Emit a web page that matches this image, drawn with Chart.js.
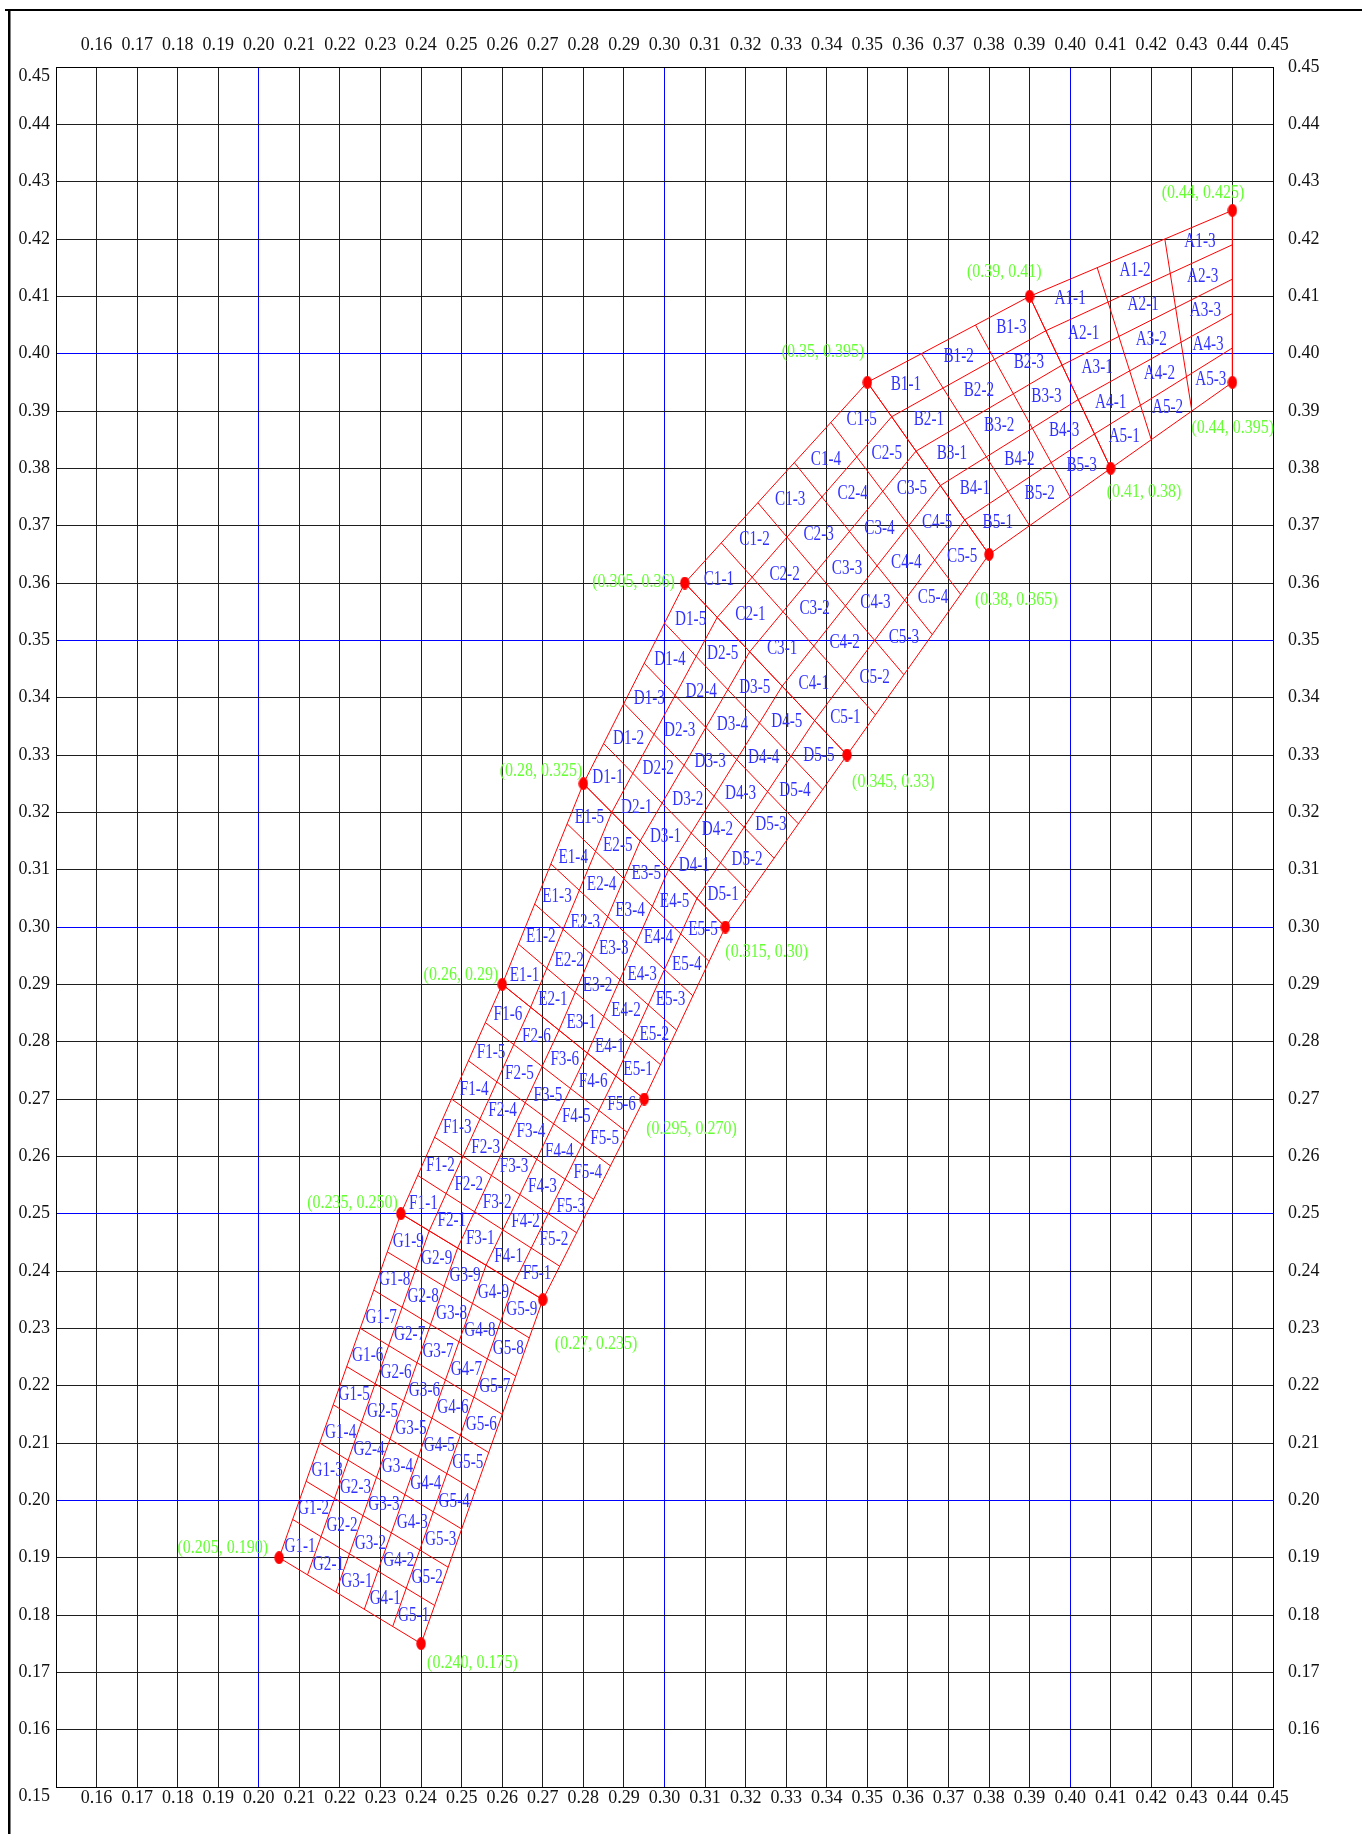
<!DOCTYPE html>
<html>
<head>
<meta charset="utf-8">
<script src="https://cdn.jsdelivr.net/npm/chart.js@4.4.1/dist/chart.umd.min.js"></script>
<style>
  html, body { margin: 0; padding: 0; background: #ffffff; }
  canvas { display: block; }
</style>
</head>
<body>
<canvas id="chart" width="1362" height="1834" style="width:1362px;height:1834px"></canvas>
<script>
// ---------------- DATA ----------------
// Tick values and labels (0.15 .. 0.45, every 0.01)
const tickValues = [0.15,0.16,0.17,0.18,0.19,0.20,0.21,0.22,0.23,0.24,0.25,0.26,0.27,0.28,0.29,0.30,
                    0.31,0.32,0.33,0.34,0.35,0.36,0.37,0.38,0.39,0.40,0.41,0.42,0.43,0.44,0.45];
const xTickLabels = ['','0.16','0.17','0.18','0.19','0.20','0.21','0.22','0.23','0.24','0.25','0.26','0.27','0.28','0.29','0.30',
                     '0.31','0.32','0.33','0.34','0.35','0.36','0.37','0.38','0.39','0.40','0.41','0.42','0.43','0.44','0.45'];
const yLeftTickLabels = ['0.15','0.16','0.17','0.18','0.19','0.20','0.21','0.22','0.23','0.24','0.25','0.26','0.27','0.28','0.29','0.30',
                     '0.31','0.32','0.33','0.34','0.35','0.36','0.37','0.38','0.39','0.40','0.41','0.42','0.43','0.44','0.45'];
const yRightTickLabels = ['','0.16','0.17','0.18','0.19','0.20','0.21','0.22','0.23','0.24','0.25','0.26','0.27','0.28','0.29','0.30',
                     '0.31','0.32','0.33','0.34','0.35','0.36','0.37','0.38','0.39','0.40','0.41','0.42','0.43','0.44','0.45'];
const accentLines = [0.20, 0.25, 0.30, 0.35, 0.40];

// Boundary points (upper/left edge and lower/right edge of the band)
const upperX = [0.205, 0.235, 0.26, 0.28, 0.305, 0.35, 0.39, 0.44];
const upperY = [0.190, 0.250, 0.29, 0.325, 0.36, 0.395, 0.41, 0.425];
const upperLabels = ['(0.205, 0.190)','(0.235, 0.250)','(0.26, 0.29)','(0.28, 0.325)','(0.305, 0.36)','(0.35, 0.395)','(0.39, 0.41)','(0.44, 0.425)'];
const lowerX = [0.240, 0.27, 0.295, 0.315, 0.345, 0.38, 0.41, 0.44];
const lowerY = [0.175, 0.235, 0.270, 0.30, 0.33, 0.365, 0.38, 0.395];
const lowerLabels = ['(0.240, 0.175)','(0.27, 0.235)','(0.295, 0.270)','(0.315, 0.30)','(0.345, 0.33)','(0.38, 0.365)','(0.41, 0.38)','(0.44, 0.395)'];

// Regions between consecutive boundary points (bottom to top)
const regionNames = ['G','F','E','D','C','B','A'];
const regionRows  = [5, 5, 5, 5, 5, 5, 5];
const regionCols  = [9, 6, 5, 5, 5, 3, 3];
// label text as printed in the original (A2-2 is printed as "A2-1")
const cellLabelOverrides = { 'A2-2': 'A2-1' };

// ---------------- STYLE (label placement in pixels) ----------------
const upperLabelDX = [-11, -3, -4, -1, -10, -3, 12, 12];   // right edge of text relative to point
const upperLabelDY = [-10, -11, -9, -13, -1, -30, -24, -17];
const lowerLabelDX = [6, 12, 2, 0, 5, -14, -4, -41];        // left edge of text relative to point
const lowerLabelDY = [19, 44, 30, 25, 27, 46, 24, 46];

const RED = '#ff0000', BLUE_TXT = 'rgb(50,50,255)', GREEN_TXT = '#66ff33';
const FONT_FAMILY = '"Liberation Serif", "Times New Roman", serif';

// ---------------- GEOMETRY ----------------
function regionCorners(k) {
  return {
    a: [upperX[k], upperY[k]], b: [upperX[k+1], upperY[k+1]],
    c: [lowerX[k], lowerY[k]], d: [lowerX[k+1], lowerY[k+1]]
  };
}
function bilinear(q, s, t) {
  const top = [q.a[0] + (q.b[0]-q.a[0])*t, q.a[1] + (q.b[1]-q.a[1])*t];
  const bot = [q.c[0] + (q.d[0]-q.c[0])*t, q.c[1] + (q.d[1]-q.c[1])*t];
  return [top[0] + (bot[0]-top[0])*s, top[1] + (bot[1]-top[1])*s];
}
const GAP = { x: null, y: null };
const meshDatasets = regionNames.map((name, k) => {
  const q = regionCorners(k), R = regionRows[k], C = regionCols[k];
  const pts = [];
  const push = p => pts.push({ x: p[0], y: p[1] });
  for (let i = 0; i <= R; i++) { push(bilinear(q, i/R, 0)); push(bilinear(q, i/R, 1)); pts.push(GAP); }
  for (let j = 0; j <= C; j++) { push(bilinear(q, 0, j/C)); push(bilinear(q, 1, j/C)); pts.push(GAP); }
  return {
    label: name, data: pts, showLine: true, spanGaps: false, borderColor: RED, borderWidth: 1,
    pointRadius: 0, pointHoverRadius: 0, fill: false, tension: 0
  };
});

// ellipse marker (circle in data units looks taller than wide)
const dot = document.createElement('canvas');
dot.width = 10; dot.height = 13;
(function () {
  const g = dot.getContext('2d');
  g.fillStyle = RED;
  g.beginPath(); g.ellipse(5, 6.5, 4.7, 6.4, 0, 0, Math.PI * 2); g.fill();
})();
const keyPoints = upperX.map((x, i) => ({ x, y: upperY[i] })).concat(lowerX.map((x, i) => ({ x, y: lowerY[i] })));
const pointDataset = {
  label: 'points', data: keyPoints, showLine: false, pointStyle: dot, pointRadius: 6, pointHoverRadius: 6,
  backgroundColor: RED, borderColor: RED
};

// ---------------- PLUGINS ----------------
const labelPlugin = {
  id: 'meshLabels',
  afterDatasetsDraw(chart) {
    const ctx = chart.ctx, xs = chart.scales.x, ys = chart.scales.y;
    ctx.save();
    ctx.textBaseline = 'middle';
    // cell labels
    ctx.font = '20px ' + FONT_FAMILY;
    ctx.fillStyle = BLUE_TXT;
    ctx.textAlign = 'center';
    regionNames.forEach((name, k) => {
      const q = regionCorners(k), R = regionRows[k], C = regionCols[k];
      for (let i = 1; i <= R; i++) {
        for (let j = 1; j <= C; j++) {
          const p = bilinear(q, (i - 0.5) / R, (j - 0.5) / C);
          const key = name + i + '-' + j;
          const txt = cellLabelOverrides[key] || key;
          ctx.save();
          ctx.translate(xs.getPixelForValue(p[0]), ys.getPixelForValue(p[1]));
          ctx.scale(0.76, 1);
          ctx.fillText(txt, 0, 0);
          ctx.restore();
        }
      }
    });
    // key point labels
    ctx.fillStyle = GREEN_TXT;
    ctx.font = '19px ' + FONT_FAMILY;
    upperX.forEach((x, i) => {
      ctx.save();
      ctx.textAlign = 'right';
      ctx.translate(xs.getPixelForValue(x) + upperLabelDX[i], ys.getPixelForValue(upperY[i]) + upperLabelDY[i]);
      ctx.scale(0.842, 1);
      ctx.fillText(upperLabels[i], 0, 0);
      ctx.restore();
    });
    lowerX.forEach((x, i) => {
      ctx.save();
      ctx.textAlign = 'left';
      ctx.translate(xs.getPixelForValue(x) + lowerLabelDX[i], ys.getPixelForValue(lowerY[i]) + lowerLabelDY[i]);
      ctx.scale(0.842, 1);
      ctx.fillText(lowerLabels[i], 0, 0);
      ctx.restore();
    });
    ctx.restore();
  }
};
const framePlugin = {
  id: 'frame',
  beforeDraw(chart) {
    const ctx = chart.ctx;
    ctx.save();
    ctx.fillStyle = '#ffffff';
    ctx.fillRect(0, 0, chart.width, chart.height);
    ctx.restore();
  },
  afterDraw(chart) {
    const ctx = chart.ctx;
    ctx.save();
    ctx.fillStyle = '#000000';
    ctx.fillRect(5, 9, chart.width - 5, 2);
    ctx.fillRect(8, 9, 2.5, chart.height - 9);
    ctx.restore();
  }
};

// ---------------- SCALES ----------------
function isAccent(v) { return accentLines.some(a => Math.abs(a - v) < 1e-6); }
function isEdge(v) { return Math.abs(v - 0.15) < 1e-6 || Math.abs(v - 0.45) < 1e-6; }
function gridColor(ctx) {
  const v = ctx.tick ? ctx.tick.value : 0;
  if (isAccent(v)) return '#0000ff';
  if (isEdge(v)) return '#000000';
  return '#1e1e1e';
}
function setTicks(scale) { scale.ticks = tickValues.map(v => ({ value: v })); }
const tickFont = { family: FONT_FAMILY, size: 18 };

const scales = {
  x: {
    type: 'linear', position: 'bottom', min: 0.15, max: 0.45,
    afterBuildTicks: setTicks,
    afterFit: s => { s.height = 47; },
    ticks: { callback: (v, i) => xTickLabels[i], font: tickFont, color: '#111', padding: 0, maxRotation: 0, autoSkip: false },
    grid: { color: gridColor, lineWidth: 1, drawTicks: false },
    border: { display: true, color: '#000', width: 1 }
  },
  x2: {
    type: 'linear', position: 'top', min: 0.15, max: 0.45,
    afterBuildTicks: setTicks,
    afterFit: s => { s.height = 67; },
    ticks: { callback: (v, i) => xTickLabels[i], font: tickFont, color: '#111', padding: 11, maxRotation: 0, autoSkip: false },
    grid: { display: false, drawTicks: false },
    border: { display: true, color: '#000', width: 1 }
  },
  y: {
    type: 'linear', position: 'left', min: 0.15, max: 0.45,
    afterBuildTicks: setTicks,
    afterFit: s => { s.width = 56; },
    ticks: {
      callback: (v, i, arr) => (i === 0 || i === arr.length - 1) ? ['', yLeftTickLabels[i]] : yLeftTickLabels[i],
      font: { family: FONT_FAMILY, size: 18, lineHeight: 1.05 }, color: '#111', padding: 6, autoSkip: false
    },
    grid: { color: gridColor, lineWidth: 1, drawTicks: false },
    border: { display: true, color: '#000', width: 1 }
  },
  y2: {
    type: 'linear', position: 'right', min: 0.15, max: 0.45,
    afterBuildTicks: setTicks,
    afterFit: s => { s.width = 89; },
    ticks: { callback: (v, i) => yRightTickLabels[i], font: tickFont, color: '#111', padding: 15, autoSkip: false },
    grid: { display: false, drawTicks: false },
    border: { display: true, color: '#000', width: 1 }
  }
};

new Chart(document.getElementById('chart'), {
  type: 'scatter',
  data: { datasets: [pointDataset].concat(meshDatasets) },
  options: {
    responsive: false, animation: false, devicePixelRatio: 1, events: [],
    layout: { padding: 0 },
    plugins: { legend: { display: false }, tooltip: { enabled: false }, title: { display: false } },
    scales
  },
  plugins: [framePlugin, labelPlugin]
});
</script>
</body>
</html>
